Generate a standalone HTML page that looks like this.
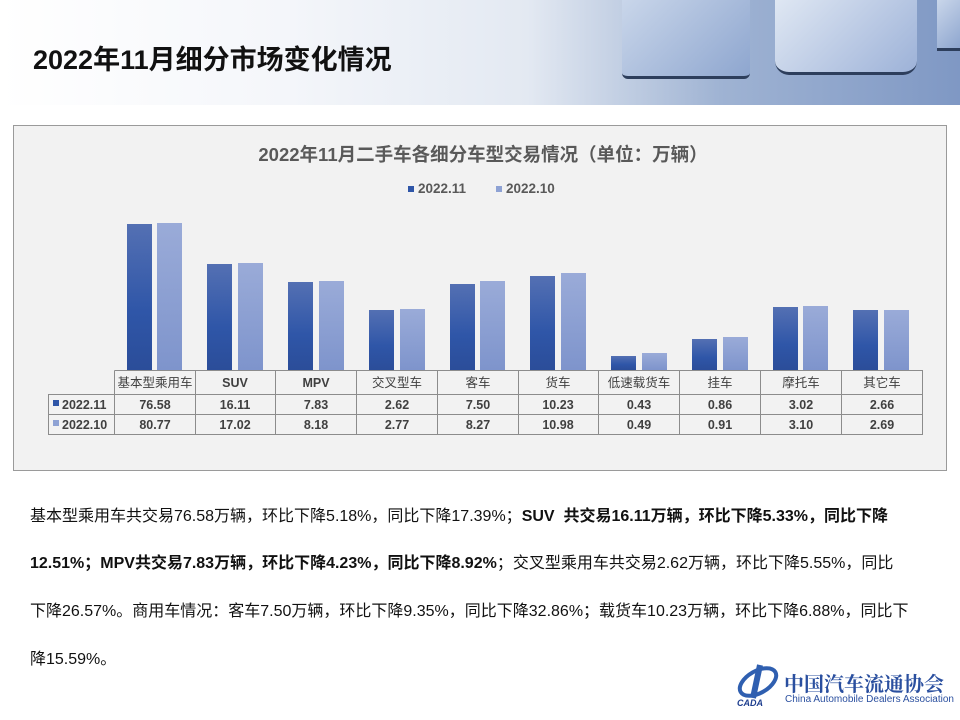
<!DOCTYPE html>
<html><head><meta charset="utf-8"><style>
body{margin:0;width:960px;height:720px;position:relative;background:#fff;font-family:"Liberation Sans","Noto Sans CJK SC",sans-serif;overflow:hidden}
.banner{position:absolute;left:0;top:0;width:960px;height:105px;background:linear-gradient(90deg,#fff 0%,#f4f6fa 30%,#e3e9f2 55%,#9fb3d3 75%,#7f98c4 100%)}
.cube{position:absolute;background:linear-gradient(135deg,#c9d6ea,#8ea6cf);border-bottom:3px solid #2d3e5c}
.title{position:absolute;left:33px;top:38px;font-size:27px;font-weight:bold;color:#111;white-space:nowrap}
.txt{position:absolute;left:30px;font-size:16px;color:#111;white-space:nowrap}
b{font-weight:bold}
</style></head><body>
<div class="banner"></div>
<div class="cube" style="left:622px;top:0;width:128px;height:76px;border-radius:0 0 6px 6px"></div>
<div class="cube" style="left:775px;top:0;width:142px;height:72px;border-radius:0 0 14px 14px;background:linear-gradient(135deg,#dfe7f3,#9db2d8)"></div>
<div class="cube" style="left:937px;top:0;width:23px;height:48px"></div>
<div class="title">2022年11月细分市场变化情况</div>

<svg style="position:absolute;left:0;top:0" width="960" height="480" font-family="Liberation Sans, Noto Sans CJK SC, sans-serif">
<defs>
<linearGradient id="d" x1="0" y1="0" x2="0" y2="1"><stop offset="0" stop-color="#5470b3"/><stop offset="0.6" stop-color="#2f56a8"/><stop offset="1" stop-color="#2b4d99"/></linearGradient>
<linearGradient id="l" x1="0" y1="0" x2="0" y2="1"><stop offset="0" stop-color="#9aabd8"/><stop offset="1" stop-color="#7e94cc"/></linearGradient>
</defs>
<rect x="13.5" y="125.5" width="933" height="345" fill="#f2f2f2" stroke="#9a9a9a"/>
<text x="483" y="161" text-anchor="middle" font-size="18.5" font-weight="bold" fill="#595959">2022年11月二手车各细分车型交易情况（单位：万辆）</text>
<rect x="408" y="186" width="6" height="6" fill="#2f56a8"/><text x="418" y="193" font-size="13.5" font-weight="bold" fill="#595959">2022.11</text>
<rect x="496" y="186" width="6" height="6" fill="#8ea2d4"/><text x="506" y="193" font-size="13.5" font-weight="bold" fill="#595959">2022.10</text>
<g>
<rect x="127" y="224" width="25" height="146" fill="url(#d)"/><rect x="157" y="223" width="25" height="147" fill="url(#l)"/>
<rect x="207" y="264" width="25" height="106" fill="url(#d)"/><rect x="238" y="263" width="25" height="107" fill="url(#l)"/>
<rect x="288" y="282" width="25" height="88" fill="url(#d)"/><rect x="319" y="281" width="25" height="89" fill="url(#l)"/>
<rect x="369" y="310" width="25" height="60" fill="url(#d)"/><rect x="400" y="309" width="25" height="61" fill="url(#l)"/>
<rect x="450" y="284" width="25" height="86" fill="url(#d)"/><rect x="480" y="281" width="25" height="89" fill="url(#l)"/>
<rect x="530" y="276" width="25" height="94" fill="url(#d)"/><rect x="561" y="273" width="25" height="97" fill="url(#l)"/>
<rect x="611" y="356" width="25" height="14" fill="url(#d)"/><rect x="642" y="353" width="25" height="17" fill="url(#l)"/>
<rect x="692" y="339" width="25" height="31" fill="url(#d)"/><rect x="723" y="337" width="25" height="33" fill="url(#l)"/>
<rect x="773" y="307" width="25" height="63" fill="url(#d)"/><rect x="803" y="306" width="25" height="64" fill="url(#l)"/>
<rect x="853" y="310" width="25" height="60" fill="url(#d)"/><rect x="884" y="310" width="25" height="60" fill="url(#l)"/>
</g>
<g stroke="#8c8c8c" stroke-width="1" fill="none">
<path d="M114.5 370.5H922.5V434.5H48.5V394.5H922.5M48.5 414.5H922.5M114.5 370.5V434.5"/>
<path d="M195.5 370.5V434.5M275.5 370.5V434.5M356.5 370.5V434.5M437.5 370.5V434.5M518.5 370.5V434.5M598.5 370.5V434.5M679.5 370.5V434.5M760.5 370.5V434.5M841.5 370.5V434.5"/>
</g>
<g font-size="12.5" fill="#404040" text-anchor="middle">
<text x="155" y="387">基本型乘用车</text><text x="235" y="387" font-weight="bold">SUV</text><text x="316" y="387" font-weight="bold">MPV</text><text x="397" y="387">交叉型车</text><text x="478" y="387">客车</text><text x="558" y="387">货车</text><text x="639" y="387">低速载货车</text><text x="720" y="387">挂车</text><text x="801" y="387">摩托车</text><text x="882" y="387">其它车</text>
</g>
<g font-size="12.5" font-weight="bold" fill="#404040" text-anchor="middle">
<text x="155" y="409">76.58</text><text x="235" y="409">16.11</text><text x="316" y="409">7.83</text><text x="397" y="409">2.62</text><text x="478" y="409">7.50</text><text x="558" y="409">10.23</text><text x="639" y="409">0.43</text><text x="720" y="409">0.86</text><text x="801" y="409">3.02</text><text x="882" y="409">2.66</text>
<text x="155" y="429">80.77</text><text x="235" y="429">17.02</text><text x="316" y="429">8.18</text><text x="397" y="429">2.77</text><text x="478" y="429">8.27</text><text x="558" y="429">10.98</text><text x="639" y="429">0.49</text><text x="720" y="429">0.91</text><text x="801" y="429">3.10</text><text x="882" y="429">2.69</text>
</g>
<rect x="53" y="400" width="6" height="6" fill="#2f56a8"/><text x="62" y="409" font-size="12.5" font-weight="bold" fill="#404040">2022.11</text>
<rect x="53" y="420" width="6" height="6" fill="#8ea2d4"/><text x="62" y="429" font-size="12.5" font-weight="bold" fill="#404040">2022.10</text>
</svg>

<div class="txt" style="top:502px">基本型乘用车共交易76.58万辆，环比下降5.18%，同比下降17.39%；<b>SUV&nbsp; 共交易16.11万辆，环比下降5.33%，同比下降</b></div>
<div class="txt" style="top:549px"><b>12.51%；MPV共交易7.83万辆，环比下降4.23%，同比下降8.92%</b>；交叉型乘用车共交易2.62万辆，环比下降5.55%，同比</div>
<div class="txt" style="top:597px">下降26.57%。商用车情况：客车7.50万辆，环比下降9.35%，同比下降32.86%；载货车10.23万辆，环比下降6.88%，同比下</div>
<div class="txt" style="top:645px">降15.59%。</div>

<svg style="position:absolute;left:732px;top:662px" width="52" height="46">
<ellipse cx="26" cy="20" rx="20" ry="11" fill="none" stroke="#2f5fb0" stroke-width="4" transform="rotate(-30 26 20)"/>
<path d="M28 3 L21 36" stroke="#2f5fb0" stroke-width="6"/>
<text x="5" y="44" font-size="9" font-style="italic" font-weight="bold" fill="#1f3f8f" font-family="Liberation Sans">CADA</text>
</svg>
<div style="position:absolute;left:784px;top:668px;font-family:'Noto Serif CJK SC',serif;font-size:20px;font-weight:bold;color:#2a4f9f;white-space:nowrap">中国汽车流通协会</div>
<div style="position:absolute;left:785px;top:694px;font-size:10px;color:#2a4f9f;white-space:nowrap">China Automobile Dealers Association</div>
</body></html>
